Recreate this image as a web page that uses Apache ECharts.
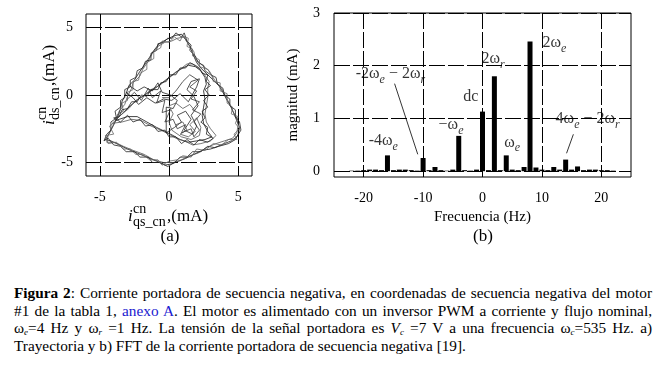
<!DOCTYPE html>
<html>
<head>
<meta charset="utf-8">
<script src="https://cdn.jsdelivr.net/npm/echarts@6/dist/echarts.min.js"></script>
<style>
body { margin: 0; background: #fff; }
#graficas { position: absolute; left: 0; top: 0; width: 665px; height: 260px; }
#leyenda {
  position: absolute; left: 14px; top: 284px; width: 638px;
  font-family: "Liberation Serif", "Times New Roman", serif; font-size: 15.3px; line-height: 17.6px; color: #000;
}
#leyenda .j { text-align: justify; text-align-last: justify; }
#leyenda sub { font-size: 9px; line-height: 0; vertical-align: -2px; }
#leyenda .lk { color: #2020d0; }
</style>
</head>
<body>
<div id="graficas"></div>
<div id="leyenda">
  <div class="j"><b>Figura 2</b>: Corriente portadora de secuencia negativa, en coordenadas de secuencia negativa del motor</div>
  <div class="j">#1 de la tabla 1, <span class="lk">anexo A</span>. El motor es alimentado con un inversor PWM a corriente y flujo nominal,</div>
  <div class="j">ω<sub><i>e</i></sub>=4 Hz y ω<sub><i>r</i></sub> =1 Hz. La tensión de la señal portadora es <i>V<sub>c</sub></i> =7 V a una frecuencia ω<sub><i>c</i></sub>=535 Hz. a)</div>
  <div>Trayectoria y b) FFT de la corriente portadora de secuencia negativa [19].</div>
</div>
<script>
// (b) espectro FFT
var freqHz = [-22, -21, -20, -19, -18, -17, -16, -15, -14, -13, -12, -11, -10, -9, -8, -7, -6, -5, -4, -3, -2, -1,
  0, 1, 2, 3, 4, 5, 6, 7, 8, 9, 10, 11, 12, 13, 14, 15, 16, 17, 18, 19, 20, 21, 22]
var magnitudMA = [0.01, 0.01, 0.02, 0.03, 0.03, 0.02, 0.30, 0.02, 0.03, 0.03, 0.02, 0.01, 0.25, 0.02, 0.08, 0.02, 0.01, 0.03, 0.67, 0.02, 0.01, 0.03,
  1.13, 0.02, 1.80, 0.02, 0.30, 0.03, 0.02, 0.08, 2.46, 0.07, 0.03, 0.02, 0.08, 0.03, 0.22, 0.03, 0.09, 0.02, 0.03, 0.03, 0.02, 0.02, 0.01]
var ticksFreq = [-20, -10, 0, 10, 20]
var ticksMag = [0, 1, 2, 3]

// (a) trayectoria (mA)
var ticksTray = [-5, 0, 5]
var trayExterior1 = [[0.4, 4.4], [0.9, 4.5], [1.2, 4.1], [1.5, 3.6], [1.7, 3.1], [2.0, 2.4], [2.3, 2.0], [2.7, 1.6], [3.1, 1.2], [3.6, 0.7],
  [3.9, 0.2], [4.2, -0.4], [4.5, -0.9], [4.7, -1.4], [4.9, -1.9], [5.1, -2.4], [5.0, -2.9], [4.8, -3.3], [4.3, -3.6], [3.6, -3.8],
  [3.0, -4.0], [2.4, -4.1], [1.8, -4.4], [1.2, -4.7], [0.7, -4.9], [0.2, -5.1], [-0.3, -5.2], [-0.9, -4.9], [-1.6, -4.6], [-2.3, -4.3],
  [-3.0, -4.0], [-3.6, -3.7], [-4.2, -3.4], [-4.6, -3.3], [-4.3, -2.8], [-4.0, -2.2], [-3.7, -1.6], [-3.5, -1.0], [-3.4, -0.5], [-3.1, 0.1],
  [-2.9, 0.7], [-2.5, 1.1], [-2.2, 1.6], [-1.8, 2.2], [-1.4, 2.8], [-1.1, 3.3], [-0.7, 3.8], [-0.2, 4.1], [0.4, 4.4]]
var trayExterior2 = [[0.6, 4.2], [1.1, 4.3], [1.4, 3.8], [1.8, 3.2], [1.9, 2.7], [2.4, 2.2], [2.9, 1.8], [3.3, 1.1], [3.8, 0.5], [4.1, -0.1],
  [4.4, -0.7], [4.6, -1.2], [4.9, -1.7], [5.0, -2.2], [4.9, -2.8], [4.6, -3.2], [4.0, -3.4], [3.4, -3.6], [2.7, -3.9], [2.1, -4.3],
  [1.5, -4.5], [0.9, -4.8], [0.3, -5.0], [-0.4, -5.0], [-1.1, -4.8], [-1.8, -4.4], [-2.6, -4.1], [-3.3, -3.8], [-3.9, -3.5], [-4.5, -3.5],
  [-4.4, -3.0], [-4.1, -2.4], [-3.8, -1.8], [-3.6, -1.2], [-3.2, -0.7], [-3.0, -0.1], [-2.7, 0.5], [-2.6, 0.9], [-2.1, 1.4], [-1.9, 1.9],
  [-1.5, 2.5], [-1.2, 3.1], [-0.8, 3.6], [-0.3, 3.9], [0.2, 4.0], [0.6, 4.2]]
var trayExterior3 = [[0.2, 4.2], [0.5, 4.6], [0.9, 4.3], [1.1, 4.6], [1.3, 4.0], [1.6, 3.7], [1.5, 3.3], [1.9, 2.9], [2.1, 2.4], [2.5, 2.2],
  [2.6, 1.8], [3.0, 1.5], [3.4, 1.3], [3.5, 0.8], [3.9, 0.5], [4.0, 0.0], [4.4, -0.3], [4.4, -0.8], [4.8, -1.1], [4.8, -1.6],
  [5.1, -2.0], [5.2, -2.6], [4.9, -3.1], [4.5, -3.4], [4.0, -3.6], [3.3, -3.9], [2.8, -3.8], [2.3, -4.2], [1.7, -4.2], [1.3, -4.6],
  [0.8, -4.6], [0.4, -5.0], [-0.1, -5.3], [-0.6, -5.0], [-1.2, -5.0], [-1.5, -4.6], [-2.1, -4.6], [-2.5, -4.2], [-3.1, -4.2], [-3.5, -3.8],
  [-4.0, -3.7], [-4.4, -3.2], [-4.7, -3.4], [-4.5, -2.9], [-4.2, -2.6], [-4.2, -2.0], [-3.8, -1.7], [-3.9, -1.2], [-3.5, -0.9], [-3.5, -0.4],
  [-3.2, -0.2], [-3.2, 0.4], [-2.8, 0.6], [-2.8, 1.1], [-2.4, 1.3], [-2.3, 1.8], [-1.9, 2.0], [-1.7, 2.5], [-1.3, 2.6], [-1.3, 3.1],
  [-0.9, 3.3], [-0.8, 3.8], [-0.4, 3.9], [-0.1, 4.2], [0.2, 4.2]]
var trayExterior4 = [[0.8, 4.0], [1.0, 4.4], [1.4, 4.2], [1.3, 3.6], [1.7, 3.4], [1.7, 2.9], [2.2, 2.6], [2.2, 2.1], [2.8, 1.9], [3.1, 1.4],
  [3.2, 1.0], [3.7, 0.9], [3.7, 0.3], [4.2, 0.1], [4.2, -0.6], [4.6, -0.9], [4.5, -1.4], [5.0, -1.6], [4.8, -2.1], [5.1, -2.5],
  [4.7, -2.9], [4.9, -3.3], [4.3, -3.3], [3.8, -3.7], [3.2, -3.6], [2.6, -4.1], [2.0, -4.0], [1.6, -4.6], [1.0, -4.5], [0.6, -4.8],
  [0.0, -4.9], [-0.5, -5.2], [-0.8, -4.8], [-1.4, -4.8], [-1.9, -4.4], [-2.4, -4.4], [-2.8, -4.0], [-3.3, -4.0], [-3.8, -3.5], [-4.4, -3.6],
  [-4.6, -3.0], [-4.0, -2.9], [-4.3, -2.3], [-3.9, -2.0], [-3.7, -1.4], [-3.3, -1.2], [-3.4, -0.6], [-3.0, -0.4], [-3.0, 0.2], [-2.6, 0.4],
  [-2.6, 1.0], [-2.2, 1.1], [-2.1, 1.6], [-1.6, 1.9], [-1.6, 2.4], [-1.1, 2.7], [-1.1, 3.2], [-0.6, 3.5], [-0.5, 4.0], [0.0, 3.9],
  [0.4, 4.3], [0.8, 4.0]]
var trayInterior1 = [[-3.9, -1.9], [-3.3, -1.3], [-2.8, -0.8], [-2.2, -0.3], [-1.6, 0.1], [-1.0, 0.5], [-0.5, 0.9], [0.0, 1.3], [0.5, 1.7],
  [1.0, 2.0], [1.4, 2.2], [1.9, 2.1], [2.3, 1.8], [2.6, 1.3], [2.7, 0.8], [2.5, 0.3], [2.6, -0.3], [2.5, -0.9], [2.4, -1.5], [2.5, -2.1],
  [2.8, -2.7], [3.1, -3.1], [2.6, -3.3], [2.0, -3.4], [1.4, -3.5], [0.8, -3.3], [0.3, -3.0], [-0.3, -2.7], [-0.9, -2.4], [-1.6, -2.0],
  [-2.3, -1.6], [-3.0, -1.6], [-3.6, -1.8], [-3.9, -1.9]]
var trayInterior2 = [[-4.1, -2.1], [-3.5, -1.5], [-2.9, -1.0], [-2.4, -0.4], [-1.9, -0.1], [-1.3, 0.4], [-0.7, 0.7], [-0.2, 1.1], [0.3, 1.5],
  [0.8, 1.9], [1.3, 2.3], [1.7, 2.3], [2.1, 2.0], [2.5, 1.6], [2.9, 1.0], [2.8, 0.5], [2.8, -0.2], [2.7, -0.8], [2.6, -1.4], [2.7, -2.0],
  [3.0, -2.5], [3.4, -3.0], [3.0, -3.4], [2.3, -3.6], [1.7, -3.7], [1.1, -3.4], [0.5, -3.2], [0.0, -2.9], [-0.6, -2.6], [-1.3, -2.3],
  [-2.0, -1.9], [-2.7, -1.8], [-3.4, -2.0], [-4.1, -2.1]]
var trayInterior3 = [[-4.0, -1.7], [-3.6, -1.6], [-3.4, -1.1], [-3.0, -1.0], [-2.7, -0.5], [-2.3, -0.5], [-2.0, 0.0], [-1.6, -0.1], [-1.3, 0.4],
  [-0.8, 0.4], [-0.6, 0.9], [-0.2, 1.0], [0.1, 1.5], [0.5, 1.5], [0.8, 2.0], [1.2, 2.0], [1.5, 2.4], [1.9, 2.2], [2.2, 2.0], [2.4, 1.6],
  [2.8, 1.5], [2.7, 1.0], [3.0, 0.7], [2.6, 0.4], [2.9, 0.0], [2.5, -0.4], [2.8, -0.9], [2.4, -1.2], [2.6, -1.7], [2.3, -2.0],
  [2.8, -2.4], [2.7, -2.9], [3.2, -3.2], [2.8, -3.5], [2.2, -3.3], [1.8, -3.7], [1.3, -3.3], [0.9, -3.6], [0.5, -3.1], [0.0, -3.1],
  [-0.3, -2.6], [-0.8, -2.7], [-1.2, -2.2], [-1.7, -2.3], [-2.1, -1.8], [-2.6, -2.0], [-3.0, -1.5], [-3.5, -2.0], [-4.0, -1.7]]
var trayCentro1 = [[-2.9, 0.7], [-2.3, 0.3], [-1.8, 0.6], [-1.2, 0.3], [-0.8, 0.9], [-0.5, 0.2], [0.1, 0.0], [0.6, -0.4], [0.3, -1.0],
  [-0.2, -0.9], [-0.2, -1.8], [-0.2, -2.8], [0.4, -2.4], [0.9, -2.0], [0.6, -1.5], [1.2, -1.2], [1.6, -1.8], [1.1, -2.6], [1.7, -2.9],
  [2.0, -2.3], [1.6, -1.5], [2.1, -0.8], [1.8, -0.1], [1.3, 0.4], [1.6, 1.0], [2.2, 1.2], [2.0, 0.6], [1.4, -0.5], [0.8, 0.1],
  [0.2, -0.4], [-0.4, -0.3], [-1.0, -0.6], [-1.6, -0.2], [-2.2, -0.7], [-2.6, -0.2], [-3.1, 0.2]]
var trayCentro2 = [[0.5, -2.2], [1.0, -2.0], [1.3, -2.6], [0.8, -2.9], [1.4, -3.1], [1.9, -2.7], [1.5, -2.2], [2.0, -1.7], [2.3, -2.4],
  [2.2, -3.0], [1.6, -3.3], [0.9, -3.1], [0.2, -2.6], [0.0, -2.0], [0.3, -1.4], [0.0, -0.8], [0.5, -0.6], [1.0, -1.0], [1.5, -0.7],
  [1.9, -1.2]]
var trayCentro3 = [[-3.0, -0.3], [-2.5, 0.2], [-2.0, -0.4], [-1.5, 0.5], [-1.2, -0.2], [-0.6, 0.3], [-0.9, -0.6], [-0.3, -0.4], [-0.5, -1.3],
  [0.1, -1.1], [-0.3, -2.0], [0.3, -1.8], [0.6, -2.5], [1.2, -2.2], [0.9, -2.8], [1.6, -2.5], [1.8, -3.1], [2.2, -2.6], [1.8, -2.0],
  [2.3, -1.4], [1.7, -1.1], [2.2, -0.5], [1.6, -0.3], [2.0, 0.3], [1.5, 0.6], [2.1, 1.1], [1.5, 1.5], [1.0, 1.0], [0.5, 0.3],
  [0.0, -0.2], [-0.5, -0.2]]

var serif = 'Liberation Serif'
var grafico = echarts.init(document.getElementById('graficas'))

var rejilla = {show: true, lineStyle: {color: '#000', width: 1, type: [16, 3]}}
var etiquetas = {color: '#000', fontFamily: serif, fontSize: 14}

function trazo(datos, color) {
  return {
    type: 'line', xAxisIndex: 0, yAxisIndex: 0, data: datos,
    showSymbol: false, symbol: 'none', silent: true,
    lineStyle: {color: color, width: 0.8}
  }
}

var richW = {
  m: {fontFamily: serif, fontSize: 16, color: '#000', padding: [0, 0, 4, 0]},
  s: {fontFamily: serif, fontSize: 12, fontStyle: 'italic', color: '#000', verticalAlign: 'bottom', lineHeight: 12}
}
function nota(x, y, texto) {
  return {value: [x, y], label: {formatter: texto}}
}

function tituloEje(x, y, rot, sub) {
  return {
    type: 'group', x: x, y: y, rotation: rot, silent: true,
    children: [
      {type: 'text', x: 0, y: 0, style: {text: 'i', fontFamily: serif, fontSize: 17, fontStyle: 'italic', verticalAlign: 'middle', fill: '#000'}},
      {type: 'text', x: 5, y: -8, style: {text: 'cn', fontFamily: serif, fontSize: 14, verticalAlign: 'middle', fill: '#000'}},
      {type: 'text', x: 5, y: 5, style: {text: sub, fontFamily: serif, fontSize: 14, verticalAlign: 'middle', fill: '#000'}},
      {type: 'text', x: 39, y: 0, style: {text: ',(mA)', fontFamily: serif, fontSize: 17, verticalAlign: 'middle', fill: '#000'}}
    ]
  }
}

var opcion = {
  animation: false,
  grid: [
    {left: 86, top: 14, width: 166, height: 162, show: true, borderColor: '#000', borderWidth: 1},
    {left: 334, top: 13, width: 297, height: 164, show: true, borderColor: '#000', borderWidth: 1}
  ],
  xAxis: [
    {
      type: 'value', gridIndex: 0, min: -6, max: 6,
      axisLine: {show: false}, axisTick: {show: false, customValues: ticksTray},
      axisLabel: Object.assign({customValues: ticksTray, margin: 14}, etiquetas),
      splitLine: rejilla
    },
    {
      type: 'value', gridIndex: 1, min: -25, max: 25,
      name: 'Frecuencia (Hz)', nameLocation: 'middle', nameGap: 31,
      nameTextStyle: {color: '#000', fontFamily: serif, fontSize: 15},
      axisLine: {show: false}, axisTick: {show: false, customValues: ticksFreq},
      axisLabel: Object.assign({customValues: ticksFreq, margin: 14}, etiquetas),
      splitLine: rejilla
    }
  ],
  yAxis: [
    {
      type: 'value', gridIndex: 0, min: -6, max: 6,
      axisLine: {show: false}, axisTick: {show: false, customValues: ticksTray},
      axisLabel: Object.assign({customValues: ticksTray, margin: 13}, etiquetas),
      splitLine: rejilla
    },
    {
      type: 'value', gridIndex: 1, min: -0.11, max: 3,
      name: 'magnitud (mA)', nameLocation: 'middle', nameGap: 33,
      nameTextStyle: {color: '#000', fontFamily: serif, fontSize: 15},
      axisLine: {show: false}, axisTick: {show: false, customValues: ticksMag},
      axisLabel: Object.assign({customValues: ticksMag, margin: 14}, etiquetas),
      splitLine: rejilla
    }
  ],
  series: [
    trazo(trayExterior1, '#111'),
    trazo(trayExterior2, '#555'),
    trazo(trayExterior3, '#222'),
    trazo(trayExterior4, '#666'),
    trazo(trayInterior1, '#111'),
    trazo(trayInterior2, '#555'),
    trazo(trayInterior3, '#222'),
    trazo(trayCentro1, '#222'),
    trazo(trayCentro2, '#555'),
    trazo(trayCentro3, '#333'),
    {
      type: 'bar', xAxisIndex: 1, yAxisIndex: 1, barWidth: 5, silent: true,
      itemStyle: {color: '#000'},
      data: freqHz.map(function (f, i) { return [f, magnitudMA[i]] })
    },
    {
      type: 'scatter', xAxisIndex: 1, yAxisIndex: 1, symbolSize: 1, silent: true,
      itemStyle: {color: 'transparent'},
      label: {show: true, position: 'inside', rich: richW},
      data: [
        nota(-16.7, 0.54, '{m|-4ω}{s|e}'),
        nota(-15.5, 1.80, '{m|-2ω}{s|e}{m| − 2ω}{s|r}'),
        nota(-1.95, 1.38, '{m|dc}'),
        nota(-5.3, 0.85, '{m|−ω}{s|e}'),
        nota(1.8, 2.10, '{m|2ω}{s|r}'),
        nota(12.1, 2.40, '{m|2ω}{s|e}'),
        nota(5.0, 0.51, '{m|ω}{s|e}'),
        nota(17.7, 0.96, '{m|4ω}{s|e}{m| − 2ω}{s|r}')
      ],
      markLine: {
        silent: true, symbol: 'none', label: {show: false},
        lineStyle: {color: '#000', width: 0.8, type: 'solid'},
        data: [
          [{coord: [-14.8, 1.66]}, {coord: [-10.9, 0.32]}],
          [{coord: [15.3, 0.70]}, {coord: [14.15, 0.34]}]
        ]
      }
    }
  ],
  graphic: [
    tituloEje(128, 217, 0, 'qs_cn'),
    tituloEje(50, 125, Math.PI / 2, 'ds_cn'),
    {type: 'text', x: 170, y: 237, silent: true, style: {text: '(a)', fontFamily: serif, fontSize: 17, align: 'center', verticalAlign: 'middle', fill: '#000'}},
    {type: 'text', x: 483, y: 237, silent: true, style: {text: '(b)', fontFamily: serif, fontSize: 17, align: 'center', verticalAlign: 'middle', fill: '#000'}}
  ]
}
grafico.setOption(opcion)
</script>
</body>
</html>
